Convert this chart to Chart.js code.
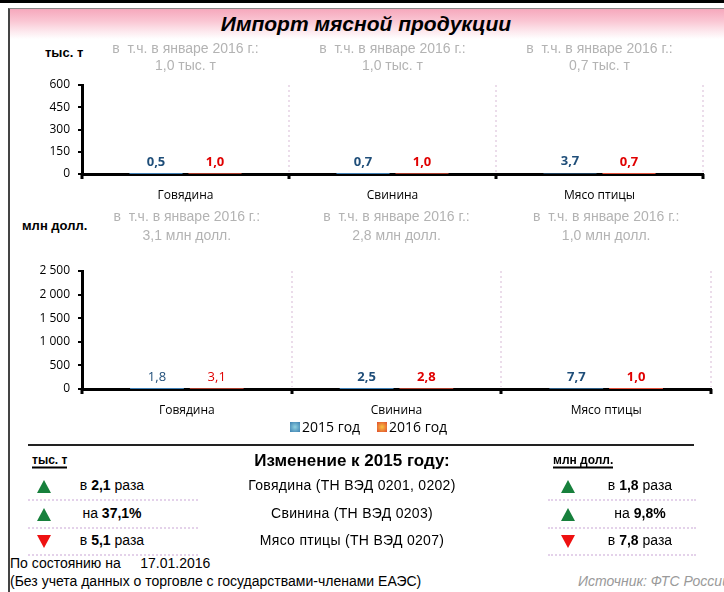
<!DOCTYPE html>
<html lang="ru">
<head>
<meta charset="utf-8">
<title>Импорт мясной продукции</title>
<script src="https://cdn.jsdelivr.net/npm/chart.js@4.4.1/dist/chart.umd.min.js"></script>
<style>
  html, body { margin: 0; padding: 0; background: #fff; }
  body { width: 724px; height: 592px; position: relative; overflow: hidden; font-family: "Liberation Sans", Arial, sans-serif; }
  .abs { position: absolute; }
  .c { position: absolute; white-space: pre; line-height: 1; transform: translate(-50%, -50%); }
  .l { position: absolute; white-space: pre; line-height: 1; transform: translateY(-50%); }
  canvas { position: absolute; left: 0; }
  .tri-up { position: absolute; width: 0; height: 0; border-left: 7px solid transparent; border-right: 7px solid transparent; border-bottom: 13px solid #17803c; }
  .tri-down { position: absolute; width: 0; height: 0; border-left: 7px solid transparent; border-right: 7px solid transparent; border-top: 13px solid #ee1111; }
  .dots { position: absolute; height: 0; border-top: 2px dotted #e4d2ea; }
</style>
</head>
<body>
<div class="abs" style="left:0;top:0;width:724px;height:3px;background:#000;"></div>
<div class="abs" style="left:8px;top:8px;width:716px;height:584px;border-left:2px solid #444;border-top:1px solid #888;"></div>
<div class="abs" style="left:10px;top:9px;width:714px;height:30px;background:linear-gradient(to bottom,#f6a8bc 0%,#fac6d3 40%,#fde9ee 75%,#fff 100%);"></div>
<div class="c" style="left:366px;top:23px;font-size:21px;font-weight:bold;font-style:italic;">Импорт мясной продукции</div>

<div class="l" style="left:45px;top:52px;font-size:13px;font-weight:bold;">тыс. т</div>
<div class="l" style="left:22px;top:225px;font-size:13px;font-weight:bold;">млн долл.</div>

<canvas id="tonsChart" width="724" height="169" style="top:36px;"></canvas>
<canvas id="usdChart" width="724" height="220" style="top:200px;"></canvas>

<div id="legend"></div>

<div class="abs" style="left:28px;top:444px;width:666px;height:2px;background:#222;"></div>
<div class="l" style="left:32px;top:461px;font-size:12px;font-weight:bold;border-bottom:2px solid #000;padding-bottom:1px;">тыс. т</div>
<div class="c" style="left:352px;top:460px;font-size:17px;font-weight:bold;">Изменение к 2015 году:</div>
<div class="l" style="left:553px;top:461px;font-size:12px;font-weight:bold;border-bottom:2px solid #000;padding-bottom:1px;">млн долл.</div>
<div id="changes"></div>

<div class="l" style="left:10px;top:563px;font-size:14px;">По состоянию на     17.01.2016</div>
<div class="l" style="left:10px;top:581px;font-size:14px;">(Без учета данных о торговле с государствами-членами ЕАЭС)</div>
<div class="l" style="left:578px;top:581px;font-size:14px;font-style:italic;color:#9a9a9a;">Источник: ФТС России</div>

<script>
// ---- data ----
const categories = ['Говядина', 'Свинина', 'Мясо птицы'];
const seriesNames = ['2015 год', '2016 год'];
const tons2015 = [0.5, 0.7, 3.7];
const tons2016 = [1.0, 1.0, 0.7];
const usd2015 = [1.8, 2.5, 7.7];
const usd2016 = [3.1, 2.8, 1.0];
const tonTicks = [0, 150, 300, 450, 600];
const usdTicks = [0, 500, 1000, 1500, 2000, 2500];
const janTons = [1.0, 1.0, 0.7];
const janUsd = [3.1, 2.8, 1.0];
const changeProducts = ['Говядина (ТН ВЭД 0201, 0202)', 'Свинина (ТН ВЭД 0203)', 'Мясо птицы (ТН ВЭД 0207)'];
const changeTons = ['в |2,1| раза', 'на |37,1%|', 'в |5,1| раза'];
const changeUsd = ['в |1,8| раза', 'на |9,8%|', 'в |7,8| раза'];
const changeDirTons = ['up', 'up', 'down'];
const changeDirUsd = ['up', 'up', 'down'];

const barColors = ['#3f7fb5', '#e2503a'];
const labelColors = ['#1f4e79', '#e00000'];
const tickFont = '"Open Sans", "Liberation Sans", sans-serif';

const fmt = v => v.toFixed(1).replace('.', ',');
const spaced = v => String(v).replace(/\B(?=(\d{3})+(?!\d))/g, ' ');

// dividers, axis nubs, value labels and the "в т.ч." notes
const decorPlugin = {
    id: 'decor',
    beforeDatasetsDraw(chart) {
        const { ctx, chartArea: a, scales: { x } } = chart;
        const step = x.width / categories.length;
        ctx.save();
        ctx.strokeStyle = '#ebdcea';
        ctx.lineWidth = 2;
        ctx.setLineDash([2, 3]);
        for (let i = 1; i <= categories.length; i++) {
            const px = Math.round(x.left + i * step);
            ctx.beginPath();
            ctx.moveTo(px, a.top);
            ctx.lineTo(px, a.bottom - 2);
            ctx.stroke();
        }
        ctx.restore();
    },
    afterDraw(chart, args, opts) {
        const { ctx, chartArea: a, scales: { x } } = chart;
        const step = x.width / categories.length;
        ctx.save();
        ctx.fillStyle = '#000';
        for (let i = 0; i <= categories.length; i++) {
            const px = Math.round(x.left + i * step);
            ctx.fillRect(px - 1.5, a.bottom, 3, 5);
        }

        ctx.textAlign = 'center';
        ctx.textBaseline = 'alphabetic';
        chart.data.datasets.forEach((ds, di) => {
            const meta = chart.getDatasetMeta(di);
            ctx.fillStyle = labelColors[di];
            meta.data.forEach((bar, i) => {
                const bold = !(opts.plainFirst && i === 0);
                ctx.font = (bold ? 'bold ' : '') + '13px ' + tickFont;
                ctx.fillText(fmt(ds.data[i]), bar.x, bar.y - 8);
            });
        });

        ctx.fillStyle = '#b3b3b3';
        ctx.font = '14px "Liberation Sans", Arial, sans-serif';
        ctx.textBaseline = 'middle';
        opts.notes.forEach((v, i) => {
            const cx = x.getPixelForValue(i);
            ctx.fillText('в  т.ч. в январе 2016 г.:', cx, opts.noteY[0]);
            ctx.fillText(fmt(v) + ' ' + opts.unit, cx, opts.noteY[1]);
        });
        ctx.restore();
    }
};

function makeChart(id, d2015, d2016, ticks, padTop, padRight, axisHeight, notes, unit, noteY, plainFirst) {
    return new Chart(document.getElementById(id), {
        type: 'bar',
        data: {
            labels: categories,
            datasets: [
                { label: seriesNames[0], data: d2015, backgroundColor: barColors[0], categoryPercentage: 0.57, barPercentage: 0.9 },
                { label: seriesNames[1], data: d2016, backgroundColor: barColors[1], categoryPercentage: 0.57, barPercentage: 0.9 }
            ]
        },
        options: {
            responsive: false,
            animation: false,
            events: [],
            layout: { padding: { top: padTop, right: padRight, left: 0, bottom: 0 } },
            plugins: {
                legend: { display: false },
                tooltip: { enabled: false },
                decor: { notes: notes, unit: unit, noteY: noteY, plainFirst: plainFirst }
            },
            scales: {
                x: {
                    grid: { display: false },
                    border: { display: true, color: '#000', width: 3 },
                    ticks: { color: '#000', padding: 6, font: { family: tickFont, size: 12 } },
                    afterFit: s => { s.height = axisHeight; }
                },
                y: {
                    min: ticks[0],
                    max: ticks[ticks.length - 1],
                    afterBuildTicks: s => { s.ticks = ticks.map(v => ({ value: v })); },
                    grid: { drawOnChartArea: false, drawTicks: true, tickLength: 4, color: '#000', lineWidth: 2 },
                    border: { display: true, color: '#000', width: 3 },
                    ticks: { color: '#000', padding: 8, font: { family: tickFont, size: 12 }, callback: v => spaced(v) },
                    afterFit: s => { s.width = 82; }
                }
            }
        },
        plugins: [decorPlugin]
    });
}

// chart 1: area 85..174 px, canvas starts at 36
makeChart('tonsChart', tons2015, tons2016, tonTicks, 49, 21, 31, janTons, 'тыс. т', [13, 30], false);
// chart 2: area 271..389 px, canvas starts at 200
makeChart('usdChart', usd2015, usd2016, usdTicks, 71, 13, 31, janUsd, 'млн долл.', [17, 36], true);

// legend
const legend = document.getElementById('legend');
const legendX = [290, 377];
const swatch = ['radial-gradient(#8fd0e0, #3c7fb0)', 'radial-gradient(#f8c040, #e04a2c)'];
seriesNames.forEach((name, i) => {
    legend.insertAdjacentHTML('beforeend',
        `<div class="abs" style="left:${legendX[i]}px;top:422px;width:10px;height:10px;background:${swatch[i]};"></div>
         <div class="l" style="left:${legendX[i] + 12}px;top:427px;font-size:14px;font-family:${tickFont.replace(/"/g, "'")};">${name}</div>`);
});

// change table
const box = document.getElementById('changes');
const rowY = [485, 513, 540];
const rich = s => s.split('|').map((p, k) => k === 1 ? `<b>${p}</b>` : p).join('');
const tri = (dir, cx, cy) => `<div class="tri-${dir}" style="left:${cx - 7}px;top:${cy - 5}px;"></div>`;
changeProducts.forEach((p, i) => {
    const y = rowY[i];
    box.insertAdjacentHTML('beforeend',
        tri(changeDirTons[i], 44, y) +
        `<div class="c" style="left:112px;top:${y}px;font-size:14px;">${rich(changeTons[i])}</div>` +
        `<div class="c" style="left:352px;top:${y}px;font-size:14px;letter-spacing:0.3px;">${p}</div>` +
        tri(changeDirUsd[i], 568, y) +
        `<div class="c" style="left:640px;top:${y}px;font-size:14px;">${rich(changeUsd[i])}</div>` +
        `<div class="dots" style="left:28px;top:${y + 14}px;width:170px;"></div>` +
        `<div class="dots" style="left:548px;top:${y + 14}px;width:148px;"></div>`);
});
</script>
</body>
</html>
